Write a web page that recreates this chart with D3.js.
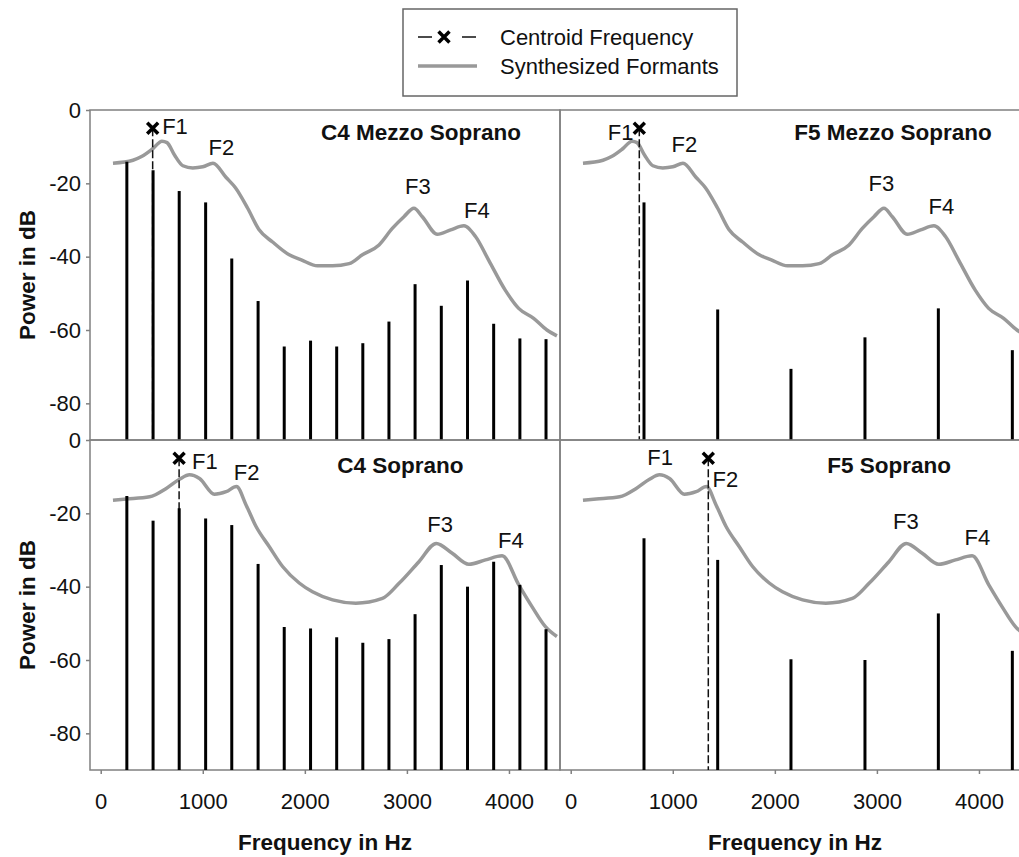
<!DOCTYPE html>
<html>
<head>
<meta charset="utf-8">
<script src="https://cdn.jsdelivr.net/npm/d3@7"></script>
<style>
body { margin: 0; background: #fff; }
svg { display: block; font-family: "Liberation Sans", Arial, sans-serif; }
.tick text { font-size: 22px; fill: #111; }
</style>
</head>
<body>
<div id="chart"></div>
<script>
// harmonic frequencies (Hz) for C4 and F5 notes
var c4Hz = [256, 513, 769, 1028, 1284, 1542, 1798, 2056, 2312, 2568, 2824, 3080, 3337, 3594, 3850, 4107, 4363];
var f5Hz = [718, 1440, 2158, 2883, 3602, 4327];

// harmonic power (dB)
var c4MezzoDb   = [-14.1, -16.4, -22.1, -25.2, -40.5, -52.1, -64.5, -62.9, -64.5, -63.6, -57.7, -47.5, -53.4, -46.5, -58.3, -62.3, -62.5];
var c4SopranoDb = [-15.3, -22.0, -18.6, -21.4, -23.2, -33.8, -51.0, -51.4, -53.8, -55.3, -54.3, -47.5, -34.1, -40.0, -33.2, -39.5, -51.6];
var f5MezzoDb   = [-25.2, -54.4, -70.6, -62.0, -54.1, -65.5];
var f5SopranoDb = [-26.8, -32.7, -59.8, -60.0, -47.3, -57.5];

// synthesized formant envelopes
var mezzoEnvHz = [120, 316, 400, 512, 600, 650, 723, 805, 902, 1000, 1100, 1229, 1320, 1440, 1550, 1684, 1847, 1960, 2125, 2272, 2434, 2564, 2727, 2857, 2971, 3069, 3151, 3298, 3428, 3558, 3672, 3802, 3965, 4095, 4242, 4372, 4470];
var mezzoEnvDb = [-14.5, -13.7, -12.7, -10.5, -8.5, -8.9, -12.3, -15.2, -15.8, -15.5, -14.5, -18.4, -21.2, -26.8, -32.6, -36.0, -39.5, -40.8, -42.5, -42.5, -41.9, -39.5, -36.8, -32.3, -29.1, -26.8, -29.1, -33.9, -32.7, -31.6, -34.5, -41.0, -49.2, -54.1, -56.8, -60.0, -61.6];
var sopranoEnvHz = [120, 251, 479, 642, 772, 870, 968, 1114, 1229, 1330, 1424, 1522, 1652, 1782, 1945, 2075, 2272, 2500, 2760, 2923, 3118, 3288, 3444, 3607, 3770, 3933, 4096, 4227, 4357, 4470];
var sopranoEnvDb = [-16.4, -16.1, -15.5, -13.2, -10.7, -9.5, -10.5, -14.8, -14.1, -12.7, -17.7, -23.6, -29.1, -34.5, -39.0, -41.4, -43.6, -44.5, -43.2, -39.1, -33.2, -28.2, -30.9, -33.9, -32.7, -31.6, -39.5, -45.5, -50.9, -53.6];

// centroid frequency (Hz) per panel
var centroidHz = [509, 672, 768, 1348];
var centroidDb = -5;

// formant labels and where they sit (Hz, dB baseline)
var formantNames = ["F1", "F2", "F3", "F4"];
var c4MezzoLblHz   = [728, 1183, 3108, 3685],  c4MezzoLblDb   = [-6.5, -12.3, -23.0, -29.5];
var f5MezzoLblHz   = [489, 1114, 3043, 3632],  f5MezzoLblDb   = [-8.2, -11.4, -22.1, -28.4];
var c4SopranoLblHz = [1020, 1429, 3325, 4019], c4SopranoLblDb = [-8.0, -10.9, -25.2, -29.5];
var f5SopranoLblHz = [876, 1516, 3284, 3985],  f5SopranoLblDb = [-6.8, -12.7, -24.4, -28.6];

var titles = ["C4 Mezzo Soprano", "F5 Mezzo Soprano", "C4 Soprano", "F5 Soprano"];
var yTicks = [0, -20, -40, -60, -80];
var xTicks = [0, 1000, 2000, 3000, 4000];

var width = 1019, height = 857;
var panelW = 470, panelH = 330;
var cols = [90, 560], rows = [110, 440];

var svg = d3.select("#chart").append("svg")
    .attr("width", width)
    .attr("height", height);

var panels = [
    {col: 0, row: 0, hz: c4Hz, db: c4MezzoDb, envHz: mezzoEnvHz, envDb: mezzoEnvDb, c: centroidHz[0], lblHz: c4MezzoLblHz, lblDb: c4MezzoLblDb, title: titles[0], tHz: 3138, tDb: -8.2},
    {col: 1, row: 0, hz: f5Hz, db: f5MezzoDb, envHz: mezzoEnvHz, envDb: mezzoEnvDb, c: centroidHz[1], lblHz: f5MezzoLblHz, lblDb: f5MezzoLblDb, title: titles[1], tHz: 3158, tDb: -8.2},
    {col: 0, row: 1, hz: c4Hz, db: c4SopranoDb, envHz: sopranoEnvHz, envDb: sopranoEnvDb, c: centroidHz[2], lblHz: c4SopranoLblHz, lblDb: c4SopranoLblDb, title: titles[2], tHz: 2937, tDb: -9},
    {col: 1, row: 1, hz: f5Hz, db: f5SopranoDb, envHz: sopranoEnvHz, envDb: sopranoEnvDb, c: centroidHz[3], lblHz: f5SopranoLblHz, lblDb: f5SopranoLblDb, title: titles[3], tHz: 3119, tDb: -9}
];

panels.forEach(function(p) {
    var left = cols[p.col], top = rows[p.row];
    var x = d3.scaleLinear().domain([-105, 4500]).range([left, left + panelW]);
    var y = d3.scaleLinear().domain([-90, 0]).range([top + panelH, top]);
    var g = svg.append("g");

    // frame
    g.append("rect")
        .attr("x", left).attr("y", top)
        .attr("width", panelW).attr("height", panelH)
        .attr("fill", "none")
        .attr("stroke", "#808080")
        .attr("stroke-width", 1.5);

    // y axis on the left column only
    if (p.col === 0) {
        var ya = g.append("g")
            .attr("transform", "translate(" + left + ",0)")
            .call(d3.axisLeft(y).tickValues(yTicks).tickSize(4).tickPadding(5)
                .tickFormat(function(d) { return String(d); }));
        ya.select(".domain").remove();
        ya.selectAll(".tick line").attr("stroke", "#808080").attr("stroke-width", 1.5);
    }
    // x axis on the bottom row only
    if (p.row === 1) {
        var xa = g.append("g")
            .attr("transform", "translate(0," + (top + panelH) + ")")
            .call(d3.axisBottom(x).tickValues(xTicks).tickSize(4).tickPadding(19)
                .tickFormat(function(d) { return String(d); }));
        xa.select(".domain").remove();
        xa.selectAll(".tick line").attr("stroke", "#808080").attr("stroke-width", 1.5);
    }

    // formant envelope
    var env = p.envHz.map(function(h, i) { return [h, p.envDb[i]]; });
    g.append("path")
        .datum(env)
        .attr("fill", "none")
        .attr("stroke", "#999")
        .attr("stroke-width", 3.5)
        .attr("stroke-linejoin", "round")
        .attr("d", d3.line()
            .x(function(d) { return x(d[0]); })
            .y(function(d) { return y(d[1]); })
            .curve(d3.curveMonotoneX));

    // centroid dashed line
    g.append("line")
        .attr("x1", x(p.c)).attr("x2", x(p.c))
        .attr("y1", y(centroidDb)).attr("y2", y(-90))
        .attr("stroke", "#111")
        .attr("stroke-width", 1.5)
        .attr("stroke-dasharray", "8,3");

    // harmonics
    g.selectAll(".harm")
        .data(p.hz)
        .enter().append("line")
        .attr("class", "harm")
        .attr("x1", function(d) { return x(d); })
        .attr("x2", function(d) { return x(d); })
        .attr("y1", y(-90))
        .attr("y2", function(d, i) { return y(p.db[i]); })
        .attr("stroke", "#000")
        .attr("stroke-width", 3);

    // centroid marker
    g.append("path")
        .attr("transform", "translate(" + x(p.c) + "," + y(centroidDb) + ")")
        .attr("d", d3.symbol(d3.symbolX, 80)())
        .attr("fill", "none")
        .attr("stroke", "#000")
        .attr("stroke-width", 3.5);

    // F1..F4 labels
    g.selectAll(".flbl")
        .data(formantNames)
        .enter().append("text")
        .attr("class", "flbl")
        .attr("x", function(d, i) { return x(p.lblHz[i]); })
        .attr("y", function(d, i) { return y(p.lblDb[i]); })
        .attr("text-anchor", "middle")
        .style("font-size", "22px")
        .attr("fill", "#111")
        .text(function(d) { return d; });

    // panel title
    g.append("text")
        .attr("x", x(p.tHz))
        .attr("y", y(p.tDb))
        .attr("text-anchor", "middle")
        .style("font-size", "22.5px")
        .style("font-weight", "bold")
        .attr("fill", "#111")
        .text(p.title);
});

// axis titles
[0, 1].forEach(function(c) {
    svg.append("text")
        .attr("x", cols[c] + panelW / 2)
        .attr("y", 850)
        .attr("text-anchor", "middle")
        .style("font-size", "22.5px")
        .style("font-weight", "bold")
        .attr("fill", "#111")
        .text("Frequency in Hz");
});
rows.forEach(function(r) {
    svg.append("text")
        .attr("transform", "translate(35," + (r + panelH / 2) + ")rotate(-90)")
        .attr("text-anchor", "middle")
        .style("font-size", "22.5px")
        .style("font-weight", "bold")
        .attr("fill", "#111")
        .text("Power in dB");
});

// legend
var legend = svg.append("g");
legend.append("rect")
    .attr("x", 403).attr("y", 9)
    .attr("width", 334).attr("height", 87)
    .attr("fill", "#fff")
    .attr("stroke", "#666")
    .attr("stroke-width", 1.5);
legend.append("line")
    .attr("x1", 418).attr("x2", 477)
    .attr("y1", 37).attr("y2", 37)
    .attr("stroke", "#111")
    .attr("stroke-width", 1.5)
    .attr("stroke-dasharray", "14,30");
legend.append("path")
    .attr("transform", "translate(444,37)")
    .attr("d", d3.symbol(d3.symbolX, 80)())
    .attr("fill", "none")
    .attr("stroke", "#000")
    .attr("stroke-width", 3.5);
legend.append("line")
    .attr("x1", 418).attr("x2", 477)
    .attr("y1", 66).attr("y2", 66)
    .attr("stroke", "#999")
    .attr("stroke-width", 3.5);
legend.append("text")
    .attr("x", 500).attr("y", 45)
    .style("font-size", "22px")
    .attr("fill", "#111")
    .text("Centroid Frequency");
legend.append("text")
    .attr("x", 500).attr("y", 74)
    .style("font-size", "22px")
    .attr("fill", "#111")
    .text("Synthesized Formants");
</script>
</body>
</html>
